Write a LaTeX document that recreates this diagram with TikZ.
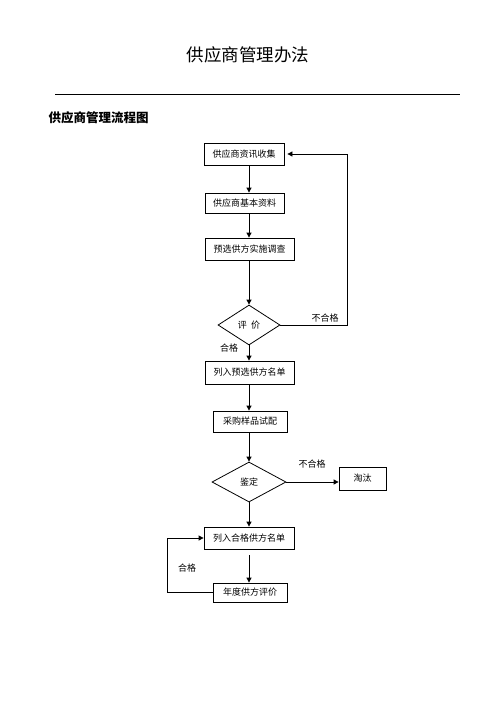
\documentclass[tikz,border=0pt]{standalone}
\usepackage{fontspec}
\setmainfont{Noto Sans CJK SC}
\newfontfamily\cjk{Noto Sans CJK SC}
\usetikzlibrary{shapes.geometric,arrows.meta}

\tikzset{
  stepbox/.style={draw, line width=0.8pt, rectangle, inner sep=0pt, font=\cjk\fontsize{9}{10}\selectfont},
  judge/.style={draw, line width=0.8pt, diamond, inner sep=0pt, font=\cjk\fontsize{9}{10}\selectfont},
  lbl/.style={font=\cjk\fontsize{9}{10}\selectfont},
  arr/.style={line width=0.8pt, -{Triangle[length=5pt,width=5pt]}},
  ln/.style={line width=0.8pt}
}

\begin{document}
\begin{tikzpicture}[x=1pt, y=-1pt]
  \useasboundingbox (0,0) rectangle (496,702);

  % 1. Title and heading
  \node (title) at (248,55) {\cjk\fontsize{17.5}{20}\selectfont 供应商管理办法};
  \draw[line width=0.9pt] (55,94) -- (460,94);
  \node[anchor=west] (head) at (45,118) {\cjk\fontsize{12.5}{14}\selectfont\bfseries 供应商管理流程图};

  % 2. The flow axis and the return lines
  \coordinate (axis) at (249,0);
  \coordinate (r1) at (347,0);
  \coordinate (l1) at (167,0);

  % 3. Boxes and decisions
  \node[stepbox, minimum width=80pt, minimum height=22pt] (sj) at (244,154) {供应商资讯收集};
  \node[stepbox, minimum width=79pt, minimum height=20pt] (jb) at (244.5,203) {供应商基本资料};
  \node[stepbox, minimum width=89pt, minimum height=22pt] (yx) at (249.5,249) {预选供方实施调查};
  \node[judge, minimum width=62pt, minimum height=40pt] (pj) at (249,325) {评\ \ 价};
  \node[stepbox, minimum width=89pt, minimum height=23pt] (lr) at (249.5,372.5) {列入预选供方名单};
  \node[stepbox, minimum width=74pt, minimum height=21pt] (cg) at (250,421.5) {采购样品试配};
  \node[judge, minimum width=74pt, minimum height=40pt] (jd) at (249,482) {鉴定};
  \node[stepbox, minimum width=47pt, minimum height=23pt] (tt) at (362.5,478.5) {淘汰};
  \node[stepbox, minimum width=90pt, minimum height=22pt] (hg) at (249,538) {列入合格供方名单};
  \node[stepbox, minimum width=74pt, minimum height=19pt] (nd) at (250,592.5) {年度供方评价};

  % 4. Connectors
  \draw[arr] (sj.south -| axis) -- (jb.north -| axis);
  \draw[arr] (jb.south -| axis) -- (yx.north -| axis);
  \draw[arr] (yx.south -| axis) -- (pj.north);
  \draw[arr] (pj.south) -- (lr.north -| axis);
  \draw[arr] (lr.south -| axis) -- (cg.north -| axis);
  \draw[arr] (cg.south -| axis) -- (jd.north);
  \draw[arr] (jd.east) -- (jd.east -| tt.west);
  \draw[arr] (jd.south) -- (hg.north -| axis);
  \draw[arr, shorten <=6pt] (hg.south -| axis) -- (nd.north -| axis);
  \draw[arr, shorten >=3pt] (pj.east) -- (pj.east -| r1) |- (sj.east);
  \draw[arr] (nd.west) -- (nd.west -| l1) |- (hg.west);

  % 5. Labels on the lines
  \node[lbl] (bh1) at (325,318) {不合格};
  \node[lbl] (h1) at (229,348) {合格};
  \node[lbl] (bh2) at (312,464) {不合格};
  \node[lbl] (h2) at (187,568) {合格};
\end{tikzpicture}
\end{document}
